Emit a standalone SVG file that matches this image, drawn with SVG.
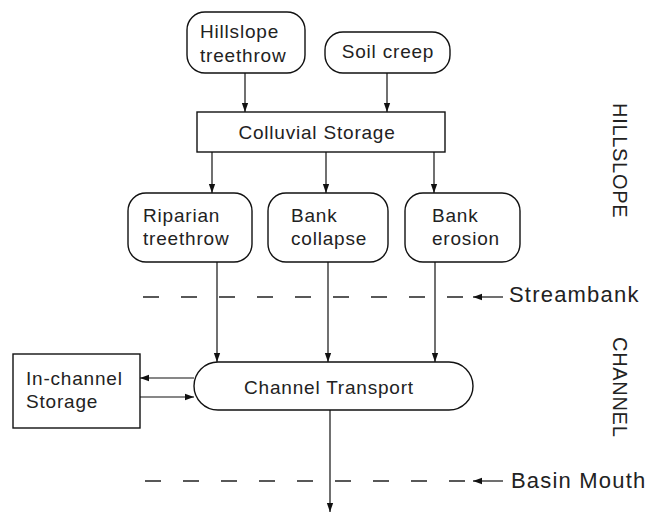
<svg xmlns="http://www.w3.org/2000/svg" width="649" height="518" viewBox="0 0 649 518">
<defs>
<style>
.box{fill:#fff;stroke:#111;stroke-width:1.4}
.ln{fill:none;stroke:#111;stroke-width:1.2}
.dash{fill:none;stroke:#222;stroke-width:1.6;stroke-dasharray:16 22}
.t{font-family:"Liberation Sans",Arial,sans-serif;font-size:19px;fill:#222;letter-spacing:0.8px}
.lb{font-family:"Liberation Sans",Arial,sans-serif;font-size:22px;fill:#222;letter-spacing:1.2px}
.v{font-family:"Liberation Sans",Arial,sans-serif;font-size:20px;fill:#222;letter-spacing:0.7px}
</style>
<marker id="ah" viewBox="0 0 10 10" refX="10" refY="5" markerWidth="9" markerHeight="9" markerUnits="userSpaceOnUse" orient="auto">
<path d="M0,1.5 L10,5 L0,8.5 Z" fill="#111"/>
</marker>
</defs>
<rect width="649" height="518" fill="#fff"/>
<g id="connectors">
<line class="ln" x1="245" y1="73" x2="245" y2="112" marker-end="url(#ah)"/>
<line class="ln" x1="387" y1="73" x2="387" y2="112" marker-end="url(#ah)"/>
<line class="ln" x1="212" y1="152" x2="212" y2="193" marker-end="url(#ah)"/>
<line class="ln" x1="326" y1="152" x2="326" y2="193" marker-end="url(#ah)"/>
<line class="ln" x1="434" y1="152" x2="434" y2="193" marker-end="url(#ah)"/>
<line class="ln" x1="217" y1="262" x2="217" y2="362" marker-end="url(#ah)"/>
<line class="ln" x1="328" y1="262" x2="328" y2="362" marker-end="url(#ah)"/>
<line class="ln" x1="435" y1="262" x2="435" y2="362" marker-end="url(#ah)"/>
<line class="ln" x1="194" y1="378" x2="140" y2="378" marker-end="url(#ah)"/>
<line class="ln" x1="140" y1="397" x2="194" y2="397" marker-end="url(#ah)"/>
<line class="ln" x1="330" y1="410" x2="330" y2="512" marker-end="url(#ah)"/>
<line class="dash" x1="143" y1="297" x2="470" y2="297"/>
<line class="dash" x1="145" y1="481" x2="470" y2="481"/>
<line class="ln" x1="503" y1="297" x2="473" y2="297" marker-end="url(#ah)"/>
<line class="ln" x1="503" y1="481" x2="473" y2="481" marker-end="url(#ah)"/>
</g>
<g id="hillslope-treethrow">
<rect class="box" x="187" y="12" width="118" height="61" rx="18"/>
<text class="t" x="200" y="38">Hillslope</text>
<text class="t" x="200" y="62">treethrow</text>
</g>
<g id="soil-creep">
<rect class="box" x="325" y="32" width="125" height="41" rx="18"/>
<text class="t" x="388" y="58" text-anchor="middle">Soil creep</text>
</g>
<g id="colluvial-storage">
<rect class="box" x="197" y="112" width="248" height="40"/>
<text class="t" x="317" y="139" text-anchor="middle">Colluvial Storage</text>
</g>
<g id="riparian-treethrow">
<rect class="box" x="128" y="193" width="124" height="69" rx="18"/>
<text class="t" x="143" y="222">Riparian</text>
<text class="t" x="143" y="245">treethrow</text>
</g>
<g id="bank-collapse">
<rect class="box" x="268" y="193" width="120" height="69" rx="18"/>
<text class="t" x="291" y="222">Bank</text>
<text class="t" x="291" y="245">collapse</text>
</g>
<g id="bank-erosion">
<rect class="box" x="405" y="193" width="115" height="69" rx="18"/>
<text class="t" x="432" y="222">Bank</text>
<text class="t" x="432" y="245">erosion</text>
</g>
<g id="channel-transport">
<rect class="box" x="194" y="362" width="279" height="48" rx="24"/>
<text class="t" x="329" y="394" text-anchor="middle">Channel Transport</text>
</g>
<g id="in-channel-storage">
<rect class="box" x="13" y="354" width="127" height="74"/>
<text class="t" x="26" y="385">In-channel</text>
<text class="t" x="26" y="408">Storage</text>
</g>
<g id="labels">
<text class="lb" x="509" y="302">Streambank</text>
<text class="lb" x="511" y="488">Basin Mouth</text>
<text class="v" transform="translate(613,103) rotate(90)">HILLSLOPE</text>
<text class="v" transform="translate(613,337) rotate(90)">CHANNEL</text>
</g>
</svg>
